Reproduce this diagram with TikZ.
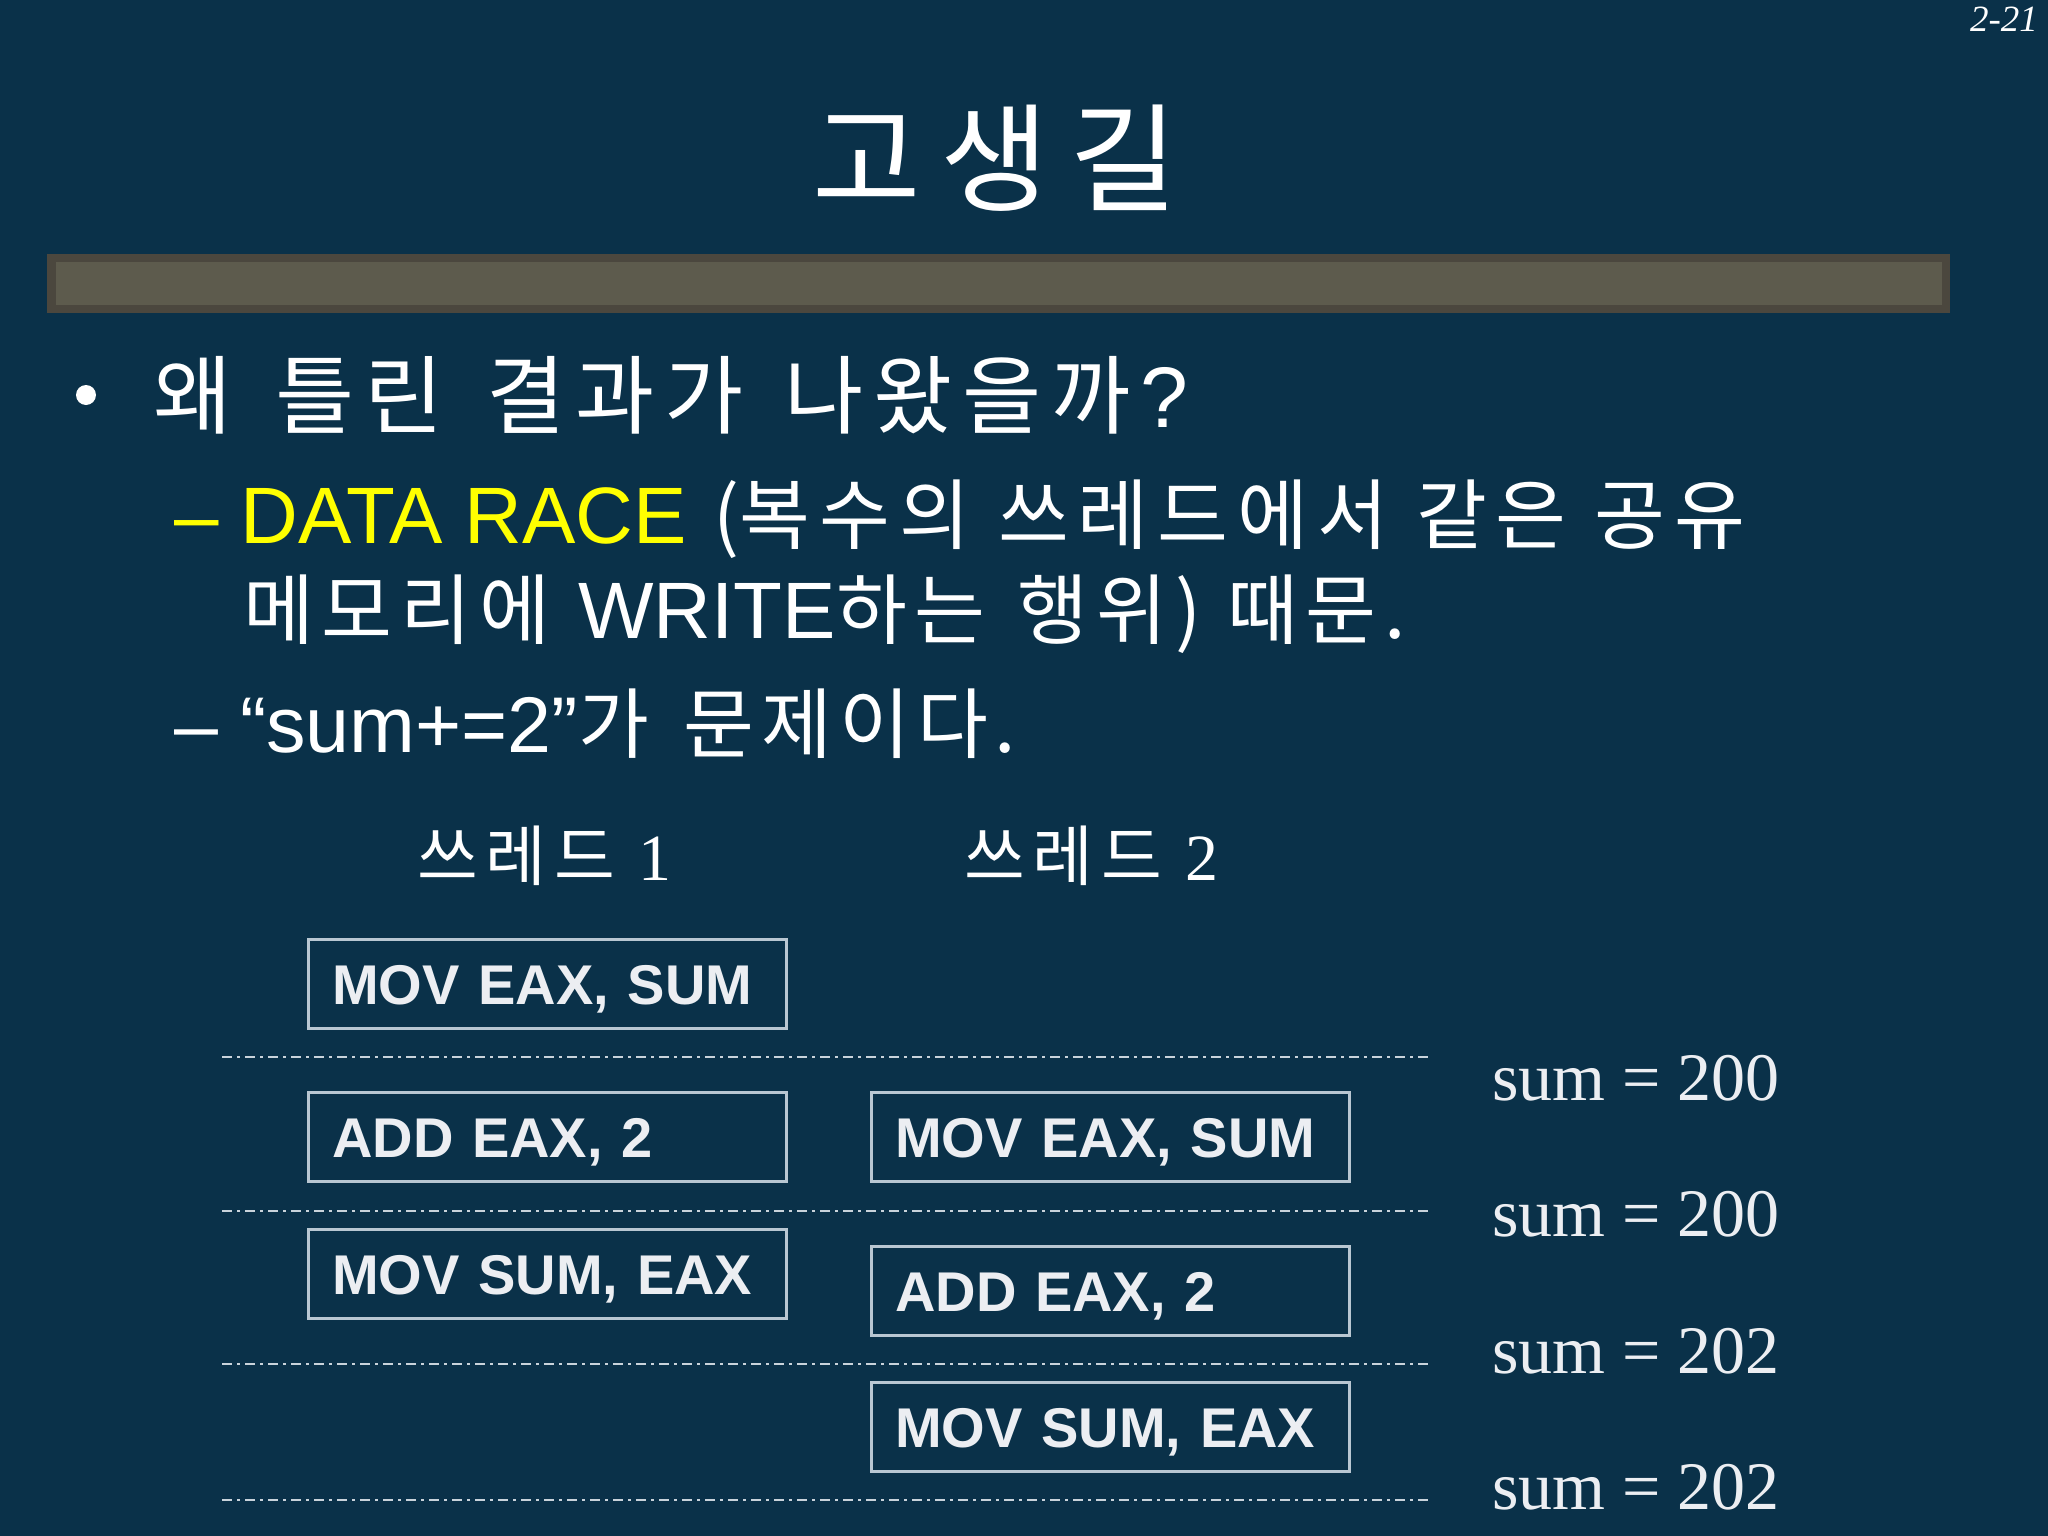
\documentclass[tikz,border=0pt]{standalone}
\usepackage{fontspec}
\setmainfont{Liberation Sans}
\newfontfamily\kr{Noto Sans CJK KR}
\newfontfamily\tms{Liberation Serif}
\definecolor{bg}{HTML}{0A3149}
\definecolor{barout}{HTML}{4B473E}
\definecolor{barin}{HTML}{5D5B4D}
\definecolor{boxline}{HTML}{B9C7D2}
\definecolor{sepline}{HTML}{C9D3DB}
\definecolor{codetext}{HTML}{ECEEF2}
\definecolor{hilite}{HTML}{FFFF00}
\newcommand\fs[1]{\fontsize{#1pt}{#1pt}\selectfont}
\newcommand\gp[1]{\hspace{#1}}
% letter-spaced words
\newlength\lsamt
\def\lw#1{\lwfirst#1\relax}
\def\lwfirst#1{#1\lwrest}
\def\lwrest#1{\ifx#1\relax\else\hspace{\lsamt}#1\expandafter\lwrest\fi}
\newcommand\kw[2]{{\kr\setlength\lsamt{#1}\lw{#2}}}
\tikzset{
  txt/.style={inner sep=0pt, text=white, anchor=base west},
  codebox/.style={draw=boxline, line width=2.5pt, minimum width=478pt, minimum height=89pt,
    inner xsep=24pt, text width=430pt, align=left, text height=41pt, text depth=0pt,
    text=codetext, font=\fs{56}\bfseries, anchor=north west},
  sepline/.style={draw=sepline, line width=2pt, dash pattern=on 10pt off 5pt on 3pt off 5pt},
  sumlbl/.style={inner sep=0pt, anchor=base west, text=codetext, font=\tms\fs{68}},
}
\begin{document}
\begin{tikzpicture}[x=1pt,y=-1pt]
\useasboundingbox (0,0) rectangle (2048,1536);
\fill[bg] (0,0) rectangle (2048,1536);
% page number
\node[inner sep=0pt, anchor=base east, text=white, font=\tms\itshape\fs{37}] (pg) at (2038,32) {2-21};
% title
\node[inner sep=0pt, anchor=base, text=white, font=\fs{118}] (title) at (995,202) {\kw{20pt}{고생길}};
% bar
\fill[barout] (47,254) rectangle (1950,313);
\fill[barin] (56,262) rectangle (1942,305);
% bullet
\fill[white] (86,395) circle (10);
\node[txt, font=\fs{86}] (l1) at (153,427) {\kw{10pt}{왜}\gp{0.5em}\kw{10pt}{틀린}\gp{0.5em}\kw{10pt}{결과가}\gp{0.47em}\kw{10pt}{나왔을까}\hspace{10pt}?};
\node[txt, font=\fs{77}] (l2) at (174,543) {{\fs{80}\textcolor{hilite}{– DATA RACE}}\gp{0.35em}{\kr (}\kw{9pt}{복수의}\gp{0.36em}\kw{9pt}{쓰레드에서}\gp{0.36em}\kw{9pt}{같은}\gp{0.36em}\kw{9pt}{공유}};
\node[txt, font=\fs{77}] (l3) at (243,638) {\kw{8pt}{메모리에}\gp{0.36em}{\fs{80}WRITE}\kw{8pt}{하는}\gp{0.42em}\kw{8pt}{행위)}\gp{0.33em}\kw{8pt}{때문.}};
\node[txt, font=\fs{77}] (l4) at (174,752) {{\fs{79}– “sum+=2”}\kw{7pt}{가}\gp{0.45em}\kw{7pt}{문제이다.}};
% thread headers
\node[txt, font=\fs{66}] (t1) at (417,880) {\kw{8pt}{쓰레드}\gp{0.35em}{\tms 1}};
\node[txt, font=\fs{66}] (t2) at (964,880) {\kw{8pt}{쓰레드}\gp{0.35em}{\tms 2}};
% code boxes
\node[codebox] (a1) at (307,938) {MOV EAX, SUM};
\node[codebox] (a2) at (307,1091) {ADD EAX, 2};
\node[codebox] (a3) at (307,1228) {MOV SUM, EAX};
\node[codebox] (b2) at (870,1091) {MOV EAX, SUM};
\node[codebox] (b3) at (870,1245) {ADD EAX, 2};
\node[codebox] (b4) at (870,1381) {MOV SUM, EAX};
% separators
\coordinate (s1a) at (222,1057); \coordinate (s1b) at (1428,1057);
\coordinate (s2a) at (222,1211); \coordinate (s2b) at (1428,1211);
\coordinate (s3a) at (222,1364); \coordinate (s3b) at (1428,1364);
\coordinate (s4a) at (222,1500); \coordinate (s4b) at (1428,1500);
\draw[sepline] (s1a) -- (s1b);
\draw[sepline] (s2a) -- (s2b);
\draw[sepline] (s3a) -- (s3b);
\draw[sepline] (s4a) -- (s4b);
% sum values
\node[sumlbl] (v1) at (1492,1100) {sum = 200};
\node[sumlbl] (v2) at (1492,1236) {sum = 200};
\node[sumlbl] (v3) at (1492,1373) {sum = 202};
\node[sumlbl] (v4) at (1492,1509) {sum = 202};
\end{tikzpicture}
\end{document}
